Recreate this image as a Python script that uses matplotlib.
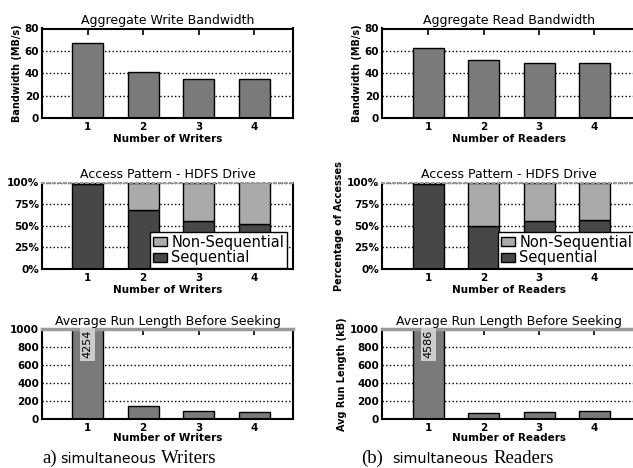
import numpy as np
import matplotlib
matplotlib.use('Agg')
import matplotlib.pyplot as plt
from matplotlib.patches import Patch

# data
clients = [1, 2, 3, 4]
write_bw = [67.2, 41.3, 35.2, 35.2]
read_bw = [62.8, 51.6, 49.3, 49.3]
write_seq = [98, 67.7, 55.3, 51.7]
read_seq = [98, 49.3, 55.3, 56.2]
write_run = [4254, 141, 85, 76]
read_run = [4586, 65, 82, 89]

W, H = 633, 468
plt.rcParams['font.family'] = 'DejaVu Sans'

BAR = '#7a7a7a'
DARK = '#474747'
LIGHT = '#aaaaaa'


def style(ax, xlabel, ylabel=None, right=4.7, left=0.18, xpad=1):
    ax.set_xlim(left, right)
    ax.set_xticks(clients)
    ax.tick_params(axis='x', direction='in', top=True, length=4, width=1.2,
                   labelsize=7.5, pad=3)
    ax.tick_params(axis='y', direction='in', length=0, labelsize=7.5, pad=2)
    for lab in ax.get_xticklabels() + ax.get_yticklabels():
        lab.set_fontweight('bold')
    for sp in ax.spines.values():
        sp.set_linewidth(1.5)
    ax.yaxis.grid(True, linestyle=':', color='black', linewidth=1)
    ax.set_axisbelow(True)
    ax.set_xlabel(xlabel, fontsize=7.5, fontweight='bold', labelpad=xpad)
    if ylabel:
        ax.set_ylabel(ylabel, fontsize=7, fontweight='bold', labelpad=2)


def px_axes(fig, x0, y0, x1, y1):
    return fig.add_axes([x0 / W, (H - y1) / H, (x1 - x0) / W, (y1 - y0) / H])


fig = plt.figure(figsize=(W / 100, H / 100), dpi=100)

cols = [
    dict(x0=42, x1=293, left=0.18, who='Writers', bw=write_bw, seq=write_seq,
         run=write_run, title_bw='Aggregate Write Bandwidth',
         pat_ylabel=None),
    dict(x0=382, x1=636, left=0.16, who='Readers', bw=read_bw, seq=read_seq,
         run=read_run, title_bw='Aggregate Read Bandwidth',
         pat_ylabel='Percentage of Accesses'),
]

for i, c in enumerate(cols):
    xl = 'Number of ' + c['who']
    right = 4.7 if i == 0 else 4.75

    # bandwidth
    ax = px_axes(fig, c['x0'], 28.5, c['x1'], 118)
    ax.bar(clients, c['bw'], width=0.56, color=BAR, edgecolor='black', linewidth=1)
    ax.set_ylim(0, 80)
    ax.set_yticks([0, 20, 40, 60, 80])
    style(ax, xl, 'Bandwidth (MB/s)', right=right, left=c['left'])
    ax.set_title(c['title_bw'], fontsize=9, pad=3)

    # access pattern
    ax = px_axes(fig, c['x0'], 182.5, c['x1'], 269)
    seq = np.array(c['seq'])
    ax.bar(clients, seq, width=0.56, color=DARK, edgecolor='black', linewidth=1)
    ax.bar(clients, 100 - seq, bottom=seq, width=0.56, color=LIGHT,
           edgecolor='black', linewidth=1)
    ax.set_ylim(0, 100)
    ax.set_yticks([0, 25, 50, 75, 100])
    ax.set_yticklabels(['0%', '25%', '50%', '75%', '100%'])
    style(ax, xl, c['pat_ylabel'], right=right, left=c['left'])
    ax.spines['top'].set_color('#999999')
    ax.spines['top'].set_linestyle(':')
    ax.set_title('Access Pattern - HDFS Drive', fontsize=9, pad=3)
    handles = [Patch(facecolor=LIGHT, edgecolor='black', label='Non-Sequential'),
               Patch(facecolor=DARK, edgecolor='black', label='Sequential')]
    ax.legend(handles=handles, loc='lower right', fontsize=10.5, fancybox=False,
              framealpha=1, edgecolor='black', handlelength=1.0,
              handleheight=0.6, handletextpad=0.3, borderpad=0.2,
              labelspacing=0.05, borderaxespad=0.05,
              bbox_to_anchor=(0.98 if i == 0 else 1.0, 0.0))

    # run length
    ax = px_axes(fig, c['x0'], 329, c['x1'], 419)
    ax.bar(clients, c['run'], width=0.56, color=BAR, edgecolor='black', linewidth=1)
    ax.set_ylim(0, 1000)
    ax.set_yticks([0, 200, 400, 600, 800, 1000])
    style(ax, xl, 'Avg Run Length (kB)' if i == 1 else None, right=right,
          left=c['left'], xpad=0)
    ax.spines['top'].set_color('#999999')
    ax.spines['top'].set_linewidth(2.5)
    ax.set_title('Average Run Length Before Seeking', fontsize=9, pad=3)
    ax.text(clients[0], 830, str(c['run'][0]), rotation=90, ha='center',
            va='center', fontsize=8,
            bbox=dict(facecolor='#cccccc', edgecolor='none', pad=1.5))

# captions: serif words with a sans "simultaneous"
yb = 1 - 463 / H
captions = [
    [(42, 'a)', 'Liberation Serif', 13.5),
     (60, 'simultaneous', 'DejaVu Sans', 10.3),
     (161, 'Writers', 'Liberation Serif', 13.5)],
    [(361, '(b)', 'Liberation Serif', 13.5),
     (392, 'simultaneous', 'DejaVu Sans', 10.3),
     (493, 'Readers', 'Liberation Serif', 13.5)],
]
for cap in captions:
    for x, s, fam, fs in cap:
        fig.text(x / W, yb, s, fontsize=fs, family=fam, ha='left',
                 va='baseline')

fig.savefig('out.png', dpi=100)
